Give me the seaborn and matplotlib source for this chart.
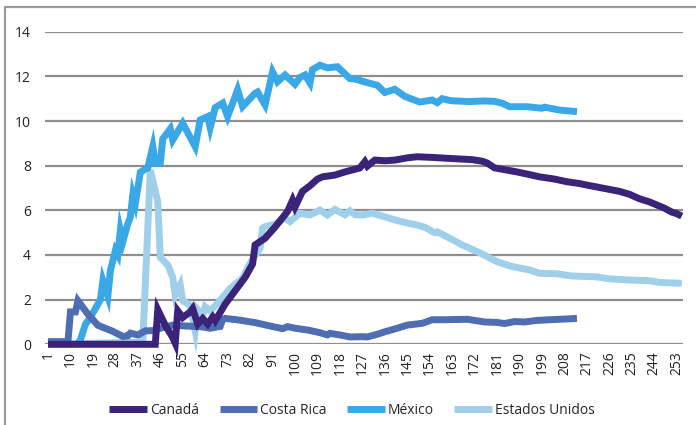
"""Daily series by country: Canadá, Costa Rica, México, Estados Unidos."""
import matplotlib
matplotlib.use("Agg")
import matplotlib.pyplot as plt
from matplotlib.lines import Line2D
import seaborn as sns

# values (category index -> value)
canada_x = [1, 44, 45, 48, 51, 52, 53, 55, 58, 59, 61, 63, 65, 67, 68, 72, 76, 80, 82, 83,
            84, 88, 92, 97, 99, 100, 103, 106, 109, 111, 116, 120, 126, 128, 129, 132, 136,
            140, 145, 149, 155, 161, 166, 171, 175, 177, 180, 185, 189, 194, 198, 204, 209,
            214, 217, 224, 230, 234, 238, 242, 245, 248, 251, 253, 255]
canada_y = [0, 0, 1.55, 0.85, 0.3, 0.05, 1.5, 1.2, 1.45, 1.6, 0.9, 1.15, 0.9, 1.22, 1.05,
            1.8, 2.4, 3.0, 3.4, 3.6, 4.45, 4.75, 5.25, 5.95, 6.45, 6.15, 6.85, 7.1, 7.4, 7.5,
            7.58, 7.72, 7.9, 8.18, 7.98, 8.25, 8.22, 8.25, 8.35, 8.4, 8.37, 8.33, 8.3, 8.27,
            8.2, 8.12, 7.9, 7.8, 7.72, 7.6, 7.5, 7.4, 7.28, 7.2, 7.13, 6.98, 6.85, 6.72, 6.52,
            6.38, 6.24, 6.1, 5.92, 5.85, 5.74]

costa_rica_x = [1, 9, 10, 12, 13, 17, 21, 27, 31, 33, 34, 37, 40, 44, 46, 51, 56, 62, 66,
                70, 71, 72, 78, 84, 90, 95, 97, 100, 105, 110, 113, 114, 118, 122, 127, 129,
                133, 136, 141, 145, 151, 155, 160, 169, 176, 181, 184, 188, 192, 197, 202,
                208, 213]
costa_rica_y = [0.12, 0.12, 1.45, 1.45, 1.95, 1.35, 0.85, 0.58, 0.35, 0.38, 0.5, 0.42, 0.6,
                0.62, 0.72, 0.86, 0.82, 0.79, 0.72, 0.8, 1.12, 1.16, 1.08, 0.97, 0.82, 0.7,
                0.79, 0.72, 0.64, 0.52, 0.42, 0.49, 0.42, 0.33, 0.34, 0.33, 0.45, 0.56, 0.72,
                0.86, 0.94, 1.1, 1.1, 1.12, 1.0, 0.98, 0.93, 1.02, 1.0, 1.07, 1.1, 1.13, 1.16]

mexico_x = [13, 14, 16, 18, 20, 22, 23, 25, 26, 28, 29, 30, 31, 33, 34, 35, 36, 38, 40, 41,
            43, 44, 46, 47, 50, 51, 55, 60, 62, 65, 66, 68, 71, 73, 77, 79, 84, 85, 88, 91,
            93, 96, 100, 102, 104, 106, 107, 110, 113, 117, 122, 124, 129, 133, 136, 140,
            144, 150, 155, 157, 159, 162, 164, 170, 176, 180, 183, 186, 193, 199, 200, 206,
            213]
mexico_y = [0.05, 0.2, 0.9, 1.2, 1.6, 2.0, 2.85, 2.15, 3.3, 4.2, 4.0, 5.1, 4.6, 5.4, 5.7,
            6.7, 6.3, 7.7, 7.85, 7.9, 8.85, 8.1, 8.1, 9.2, 9.65, 9.15, 9.9, 8.85, 10.05, 10.2,
            9.7, 10.6, 10.8, 10.2, 11.4, 10.65, 11.24, 11.3, 10.72, 12.2, 11.76, 12.06, 11.65,
            11.95, 12.06, 11.7, 12.3, 12.5, 12.38, 12.43, 11.9, 11.88, 11.72, 11.6, 11.28,
            11.42, 11.1, 10.85, 10.94, 10.82, 11.0, 10.92, 10.9, 10.87, 10.9, 10.88, 10.8,
            10.64, 10.64, 10.57, 10.62, 10.49, 10.42]

usa_x = [1, 39, 42, 45, 46, 49, 51, 52, 54, 55, 58, 60, 61, 63, 64, 66, 69, 74, 79, 82, 86,
         87, 88, 92, 96, 98, 102, 106, 110, 113, 116, 120, 122, 124, 127, 131, 136, 140, 145,
         149, 152, 156, 157, 162, 167, 174, 181, 187, 194, 198, 205, 211, 221, 226, 234, 242,
         246, 255]
usa_y = [0, 0.1, 7.8, 6.4, 3.9, 3.55, 3.0, 2.2, 2.66, 1.95, 1.75, 0.6, 1.55, 1.3, 1.68,
         1.5, 1.84, 2.5, 2.96, 3.63, 4.3, 5.2, 5.27, 5.38, 5.65, 5.5, 5.87, 5.79, 6.01, 5.79,
         6.04, 5.8, 5.98, 5.8, 5.79, 5.87, 5.71, 5.57, 5.43, 5.34, 5.24, 5.0, 5.04, 4.75,
         4.45, 4.1, 3.7, 3.48, 3.33, 3.18, 3.16, 3.06, 3.02, 2.93, 2.88, 2.85, 2.77, 2.73]

x_ticks = list(range(1, 254, 9))
y_ticks = list(range(0, 15, 2))

COLORS = {
    "Canadá": "#3a2379",
    "Costa Rica": "#4f6db2",
    "México": "#3aa8e7",
    "Estados Unidos": "#a0cfea",
}

sns.set_style("white")
plt.rcParams["font.family"] = ["Open Sans", "DejaVu Sans"]

fig = plt.figure(figsize=(6.96, 4.25), dpi=100)
ax = fig.add_axes([45 / 696, 1 - 344.3 / 425, 638 / 696, 312.6 / 425])

series = {
    "Canadá": (canada_x, canada_y),
    "Costa Rica": (costa_rica_x, costa_rica_y),
    "México": (mexico_x, mexico_y),
    "Estados Unidos": (usa_x, usa_y),
}
# Excel stacking: light series underneath, Canadá on top
for name in ["Estados Unidos", "México", "Costa Rica", "Canadá"]:
    xs, ys = series[name]
    sns.lineplot(x=xs, y=ys, ax=ax, color=COLORS[name], linewidth=5.0,
                 estimator=None, sort=False, legend=False)
for line in ax.lines:
    line.set_clip_on(False)
    line.set_solid_joinstyle("miter")
    line.set_solid_capstyle("butt")

ax.set_xlim(-0.2, 255.5)
ax.set_ylim(0, 14)
ax.set_xticks(x_ticks)
ax.set_xticklabels([str(t) for t in x_ticks], rotation=90, fontsize=10, color="#222222")
ax.set_yticks(y_ticks)
ax.set_yticklabels([str(t) for t in y_ticks], fontsize=10, color="#222222")
ax.tick_params(axis="x", length=0, pad=5)
ax.tick_params(axis="y", length=0, pad=10)
ax.yaxis.grid(True, color="#8e8e8e", linewidth=1.6)
ax.xaxis.grid(False)
ax.set_axisbelow(True)
for s in ax.spines.values():
    s.set_visible(False)

handles = [Line2D([], [], color=COLORS[n], linewidth=5, solid_capstyle="butt") for n in COLORS]
fig.legend(handles, list(COLORS), loc="center", bbox_to_anchor=(0.506, 0.035), ncol=4,
           frameon=False, fontsize=10, handlelength=2.7, handletextpad=0.25,
           columnspacing=1.45)

# chart-area border (only top and left edges are visible in the crop)
fig.add_artist(Line2D([5 / 696, 5 / 696], [0, 1 - 6.7 / 425], color="#9a9a9a", linewidth=1.6))
fig.add_artist(Line2D([5 / 696, 1], [1 - 6.7 / 425, 1 - 6.7 / 425], color="#9a9a9a", linewidth=1.6))

fig.savefig("out.png", dpi=100)
plt.close(fig)
